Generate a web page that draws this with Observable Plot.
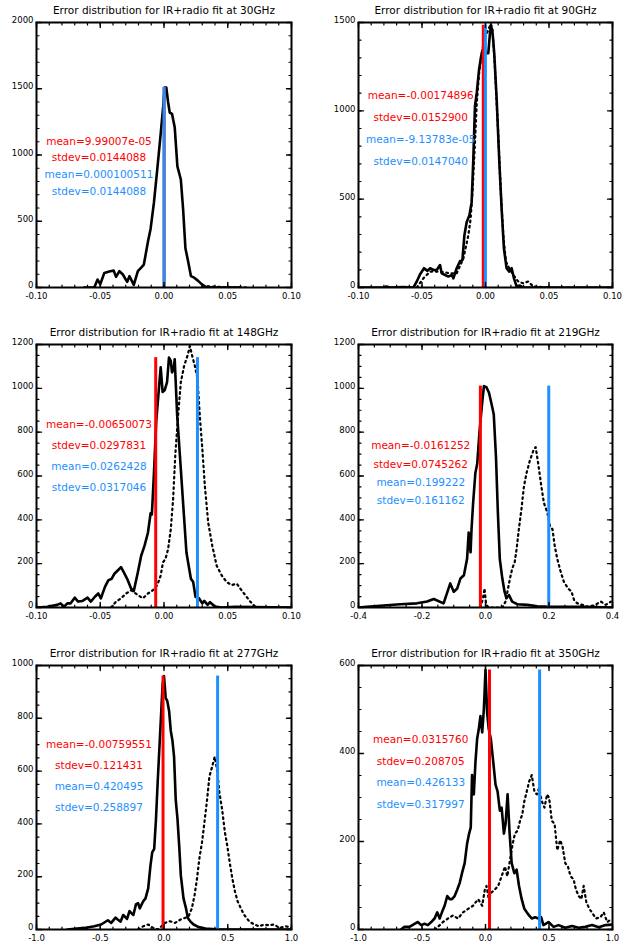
<!DOCTYPE html>
<html><head><meta charset="utf-8">
<script src="https://cdn.jsdelivr.net/npm/d3@7"></script>
<script src="https://cdn.jsdelivr.net/npm/@observablehq/plot@0.6"></script>
<style>
body{margin:0;background:#fff;}
#wrap{position:relative;width:631px;height:950px;overflow:hidden;background:#fff;}
#wrap svg{position:absolute;}
</style></head><body><div id="wrap"></div>
<script>
// ---------- data ----------
const frequencies = ["30GHz","90GHz","148GHz","219GHz","277GHz","350GHz"];
const xDomains = [[-0.1,0.1],[-0.1,0.1],[-0.1,0.1],[-0.4,0.4],[-1,1],[-1,1]];
const yDomains = [[0,2000],[0,1500],[0,1200],[0,1200],[0,1000],[0,600]];
const xTickValues = [
  [-0.1,-0.05,0,0.05,0.1],[-0.1,-0.05,0,0.05,0.1],[-0.1,-0.05,0,0.05,0.1],
  [-0.4,-0.2,0,0.2,0.4],[-1,-0.5,0,0.5,1],[-1,-0.5,0,0.5,1]];
const xTickLabels = [
  ["-0.10","-0.05","0.00","0.05","0.10"],["-0.10","-0.05","0.00","0.05","0.10"],["-0.10","-0.05","0.00","0.05","0.10"],
  ["-0.4","-0.2","0.0","0.2","0.4"],["-1.0","-0.5","0.0","0.5","1.0"],["-1.0","-0.5","0.0","0.5","1.0"]];
const yTickValues = [
  [0,500,1000,1500,2000],[0,500,1000,1500],[0,200,400,600,800,1000,1200],
  [0,200,400,600,800,1000,1200],[0,200,400,600,800,1000],[0,200,400,600]];
const xMinorStep = [0.01,0.01,0.01,0.05,0.1,0.1];
const yMinorStep = [100,100,50,50,50,50];

const redMeanText  = ["9.99007e-05","-0.00174896","-0.00650073","-0.0161252","-0.00759551","0.0315760"];
const redStdText   = ["0.0144088","0.0152900","0.0297831","0.0745262","0.121431","0.208705"];
const blueMeanText = ["0.000100511","-9.13783e-05","0.0262428","0.199222","0.420495","0.426133"];
const blueStdText  = ["0.0144088","0.0147040","0.0317046","0.161162","0.258897","0.317997"];

// histograms: [error, count]
const solid30 = [[-0.0626,0],[-0.0547,0],[-0.0521,60],[-0.05,25],[-0.0468,110],[-0.0429,120],[-0.0395,128],[-0.0376,80],[-0.035,123],[-0.0324,100],[-0.0289,42],[-0.0271,86],[-0.0237,20],[-0.0205,123],[-0.0179,150],[-0.0158,173],[-0.0126,345],[-0.0105,444],[-0.0079,640],[-0.0053,890],[-0.0026,1160],[-0.0005,1380],[0.0005,1510],[0.0018,1510],[0.0032,1400],[0.0045,1320],[0.0063,1310],[0.0084,1210],[0.0105,914],[0.0132,815],[0.015,590],[0.0168,296],[0.0189,198],[0.0211,86],[0.0237,74],[0.0268,50],[0.0295,25],[0.0326,5],[0.0374,0],[0.06,0]];
const dotted30 = [[0.03,10],[0.0374,8],[0.045,4],[0.055,2],[0.065,0]];
const solid90 = [[-0.1,0],[-0.08,0],[-0.078,6],[-0.075,0],[-0.065,3],[-0.0567,0],[-0.0541,34],[-0.0515,75],[-0.0484,109],[-0.0457,94],[-0.0436,109],[-0.041,99],[-0.0384,99],[-0.0358,127],[-0.0345,80],[-0.0318,71],[-0.0292,62],[-0.0266,71],[-0.0253,52],[-0.0227,109],[-0.02,150],[-0.0182,155],[-0.0166,296],[-0.0148,371],[-0.0127,408],[-0.0109,483],[-0.0096,727],[-0.0083,1026],[-0.0069,1101],[-0.0051,1232],[-0.0035,1307],[-0.0022,1345],[0.0009,1326],[0.0022,1326],[0.0035,1438],[0.0043,1485],[0.0056,1438],[0.0069,1326],[0.0088,1064],[0.0109,708],[0.0127,446],[0.0145,221],[0.0166,109],[0.0187,90],[0.0206,109],[0.0224,52],[0.0245,6],[0.0271,11],[0.0297,0],[0.1,0]];
const dotted90 = [[-0.0541,0],[-0.0489,52],[-0.0436,90],[-0.0358,90],[-0.0279,80],[-0.0227,80],[-0.0174,165],[-0.0135,296],[-0.0117,390],[-0.0101,558],[-0.0083,820],[-0.0069,1045],[-0.0048,1232],[-0.003,1326],[-0.0004,1420],[0.0022,1457],[0.0041,1494],[0.0056,1457],[0.0075,1232],[0.0101,858],[0.0122,521],[0.014,296],[0.0161,146],[0.0187,109],[0.0219,71],[0.0258,34],[0.0297,24],[0.0337,34],[0.0376,6],[0.0507,0]];
const solid148 = [[-0.1,0],[-0.0995,0],[-0.0916,3],[-0.0837,12],[-0.0811,19],[-0.0784,4],[-0.0758,19],[-0.0732,19],[-0.07,45],[-0.0674,27],[-0.0639,30],[-0.06,45],[-0.0574,27],[-0.0542,49],[-0.0516,64],[-0.0495,42],[-0.0463,94],[-0.0437,124],[-0.0411,131],[-0.0389,154],[-0.0363,169],[-0.0337,184],[-0.0316,161],[-0.0289,131],[-0.0258,87],[-0.0237,75],[-0.0205,161],[-0.0179,236],[-0.0153,281],[-0.0126,341],[-0.0105,430],[-0.0095,425],[-0.0079,610],[-0.0061,849],[-0.0042,984],[-0.0026,1096],[-0.0011,984],[0.0005,991],[0.0024,1028],[0.0039,1140],[0.0053,1125],[0.0063,1073],[0.0076,1088],[0.0084,1133],[0.0103,879],[0.0124,700],[0.015,475],[0.0176,251],[0.0211,131],[0.0229,116],[0.0247,49],[0.0274,42],[0.03,19],[0.0316,30],[0.0342,12],[0.0361,24],[0.0379,15],[0.04,4],[0.0453,0],[0.0558,3],[0.1,0]];
const dotted148 = [[-0.0416,0],[-0.0376,27],[-0.0337,42],[-0.0297,64],[-0.0258,79],[-0.0205,57],[-0.0166,42],[-0.0126,64],[-0.0087,79],[-0.0053,102],[-0.0026,146],[-0.0008,206],[0.0011,221],[0.0032,266],[0.0053,356],[0.0071,490],[0.0089,700],[0.0111,879],[0.0132,1028],[0.0158,1103],[0.0184,1148],[0.0203,1193],[0.0221,1148],[0.0242,1103],[0.0263,1043],[0.0282,864],[0.03,729],[0.0321,550],[0.0347,386],[0.0379,281],[0.0413,191],[0.0453,146],[0.0492,116],[0.0532,102],[0.0571,109],[0.0597,87],[0.0637,57],[0.0676,27],[0.0716,4],[0.0768,0],[0.0953,0]];
const solid219 = [[-0.4,0],[-0.374,3],[-0.321,9],[-0.268,15],[-0.216,19],[-0.184,27],[-0.163,39],[-0.132,19],[-0.111,110],[-0.1,72],[-0.089,87],[-0.079,132],[-0.068,147],[-0.058,222],[-0.053,342],[-0.047,252],[-0.044,357],[-0.039,477],[-0.032,612],[-0.026,657],[-0.019,800],[-0.011,927],[-0.005,1010],[0.003,1005],[0.011,980],[0.018,935],[0.026,882],[0.033,687],[0.039,432],[0.045,222],[0.053,132],[0.06,72],[0.066,42],[0.074,57],[0.084,27],[0.1,15],[0.132,12],[0.163,6],[0.205,3],[0.311,3],[0.4,0]];
const dotted219 = [[-0.016,0],[-0.008,42],[-0.003,87],[0.002,12],[0.01,0],[0.053,0],[0.063,27],[0.071,87],[0.077,132],[0.084,177],[0.092,207],[0.098,267],[0.105,357],[0.113,447],[0.121,552],[0.129,612],[0.14,672],[0.151,717],[0.158,732],[0.166,657],[0.176,552],[0.184,477],[0.195,432],[0.203,372],[0.211,357],[0.218,282],[0.226,222],[0.237,162],[0.247,117],[0.26,87],[0.271,72],[0.279,34],[0.289,19],[0.305,12],[0.321,4],[0.342,9],[0.363,27],[0.379,12],[0.395,27]];
const solid277 = [[-0.757,0],[-0.625,6],[-0.546,12],[-0.493,19],[-0.44,35],[-0.414,25],[-0.38,45],[-0.361,37],[-0.34,30],[-0.32,55],[-0.309,50],[-0.29,40],[-0.27,70],[-0.256,62],[-0.24,55],[-0.22,95],[-0.203,100],[-0.19,80],[-0.164,106],[-0.145,118],[-0.124,156],[-0.106,243],[-0.092,293],[-0.077,305],[-0.063,417],[-0.05,554],[-0.037,679],[-0.024,803],[-0.011,928],[0,960],[0.013,878],[0.026,865],[0.04,828],[0.053,753],[0.066,716],[0.079,654],[0.092,492],[0.106,417],[0.119,318],[0.132,205],[0.153,118],[0.172,81],[0.187,44],[0.206,31],[0.232,19],[0.272,9],[0.325,4],[0.43,0],[1,0]];
const dotted277 = [[-0.203,0],[-0.164,12],[-0.124,19],[-0.084,6],[-0.045,0],[0.008,25],[0.047,31],[0.087,25],[0.127,37],[0.166,44],[0.193,50],[0.219,81],[0.24,131],[0.259,193],[0.277,268],[0.298,330],[0.317,405],[0.338,492],[0.356,579],[0.377,616],[0.398,654],[0.417,604],[0.435,517],[0.456,455],[0.478,367],[0.496,318],[0.515,255],[0.536,193],[0.557,143],[0.578,106],[0.602,81],[0.628,56],[0.668,31],[0.707,19],[0.747,12],[0.786,19],[0.826,16],[0.865,19],[0.905,6],[0.958,12],[1.0,6]];
const solid350 = [[-0.665,0],[-0.639,6],[-0.599,6],[-0.559,13],[-0.533,17],[-0.507,10],[-0.48,13],[-0.454,10],[-0.427,17],[-0.401,25],[-0.38,39],[-0.361,25],[-0.343,39],[-0.322,54],[-0.301,76],[-0.282,69],[-0.264,69],[-0.243,76],[-0.222,91],[-0.203,106],[-0.185,128],[-0.164,151],[-0.145,195],[-0.129,218],[-0.116,232],[-0.106,351],[-0.092,307],[-0.079,381],[-0.066,433],[-0.053,455],[-0.04,485],[-0.026,448],[-0.013,500],[0,590],[0.013,492],[0.026,455],[0.042,433],[0.061,381],[0.079,329],[0.095,314],[0.113,270],[0.127,277],[0.145,218],[0.158,240],[0.174,307],[0.19,218],[0.206,151],[0.227,128],[0.245,136],[0.264,99],[0.285,69],[0.306,47],[0.325,39],[0.343,32],[0.364,25],[0.391,28],[0.417,25],[0.438,28],[0.456,10],[0.496,17],[0.536,6],[0.575,10],[0.628,4],[0.681,8],[0.734,4],[0.786,6],[0.839,10],[0.892,5],[0.945,10],[0.997,11]];
const dotted350 = [[-0.401,0],[-0.375,6],[-0.335,17],[-0.296,25],[-0.256,32],[-0.216,25],[-0.177,39],[-0.137,47],[-0.098,54],[-0.058,69],[-0.026,54],[-0.005,91],[0.008,99],[0.026,69],[0.047,84],[0.074,91],[0.1,99],[0.127,121],[0.153,143],[0.172,121],[0.193,158],[0.214,195],[0.232,218],[0.253,225],[0.272,247],[0.29,262],[0.306,292],[0.325,314],[0.343,336],[0.364,351],[0.385,314],[0.404,307],[0.422,321],[0.443,292],[0.464,277],[0.485,307],[0.501,299],[0.522,247],[0.544,240],[0.565,180],[0.588,203],[0.607,188],[0.628,151],[0.649,143],[0.67,121],[0.694,114],[0.712,91],[0.734,76],[0.755,69],[0.773,99],[0.794,62],[0.818,47],[0.844,36],[0.871,25],[0.905,28],[0.931,39],[0.958,17],[0.997,25]];

const solidSeries  = [solid30, solid90, solid148, solid219, solid277, solid350];
const dottedSeries = [dotted30, dotted90, dotted148, dotted219, dotted277, dotted350];

// ---------- layout / style ----------
const RED = "#ff0000", BLUE = "#1e8fff";
const FONT = "DejaVu Sans";
const cols = [{left:0, width:316, ml:36, mr:25}, {left:316, width:315, ml:42, mr:19}];
const rows = [{ft:22, fb:287}, {ft:344, fb:607}, {ft:665, fb:929}];
const tickShape = {draw(ctx, l){ ctx.moveTo(0,0); ctx.lineTo(0,-l); }};

function ticksOnFrame(xs, ys, len, sw){
  const o = {length:len, anchor:"start", shape:tickShape, stroke:"black", strokeWidth:sw};
  return [
    Plot.vector(xs, {...o, x:d=>d, frameAnchor:"bottom", rotate:0}),
    Plot.vector(xs, {...o, x:d=>d, frameAnchor:"top", rotate:180}),
    Plot.vector(ys, {...o, y:d=>d, frameAnchor:"left", rotate:90}),
    Plot.vector(ys, {...o, y:d=>d, frameAnchor:"right", rotate:-90})
  ];
}
function stepRange(lo, hi, step){
  const n = Math.round((hi-lo)/step);
  return d3.range(n+1).map(k => +(lo + k*step).toFixed(6));
}

const wrap = document.getElementById("wrap");
for (let i = 0; i < 6; i++) {
  const c = cols[i % 2], r = rows[Math.floor(i / 2)];
  const [x0, x1] = xDomains[i];
  const solid = solidSeries[i], dotted = dottedSeries[i];
  const peak = d3.max(solid, d => d[1]);
  const labelMap = new Map(xTickValues[i].map((v, k) => [v, xTickLabels[i][k]]));
  const textX = x0 + 0.245 * (x1 - x0);
  const redLabels = ["mean=" + redMeanText[i], "stdev=" + redStdText[i]];
  const blueLabels = ["mean=" + blueMeanText[i], "stdev=" + blueStdText[i]];
  const marginTop = 30, marginBottom = 22;
  const height = (r.fb - r.ft) + marginTop + marginBottom;

  const svg = Plot.plot({
    width: c.width, height,
    marginLeft: c.ml, marginRight: c.mr, marginTop, marginBottom,
    x: {domain: xDomains[i]},
    y: {domain: yDomains[i]},
    style: {fontFamily: FONT, fontSize: "8.5px", background: "transparent", overflow: "visible", color: "black"},
    marks: [
      Plot.line(dotted, {x: d => d[0], y: d => d[1], stroke: "black", strokeWidth: 2.2, strokeDasharray: "1.7,3.6", clip: true}),
      Plot.line(solid, {x: d => d[0], y: d => d[1], stroke: "black", strokeWidth: 2.6, strokeLinejoin: "round", clip: true}),
      Plot.ruleX([parseFloat(redMeanText[i])], {x: d => d, y1: 0, y2: peak, stroke: RED, strokeWidth: 3}),
      Plot.ruleX([parseFloat(blueMeanText[i])], {x: d => d, y1: 0, y2: peak, stroke: BLUE, strokeWidth: 3}),
      ...ticksOnFrame(stepRange(x0, x1, xMinorStep[i]), stepRange(0, yDomains[i][1], yMinorStep[i]), 2.5, 1.2),
      ...ticksOnFrame(xTickValues[i], yTickValues[i], 5, 1.4),
      Plot.frame({stroke: "black", strokeWidth: 2}),
      Plot.axisX({ticks: xTickValues[i], tickFormat: d => labelMap.get(d), tickSize: 0, tickPadding: 5, label: null}),
      Plot.axisY({ticks: yTickValues[i], tickFormat: d => String(d), tickSize: 0, tickPadding: 3, label: null, dy: -2}),
      Plot.text(["Error distribution for IR+radio fit at " + frequencies[i]], {frameAnchor: "top", dy: -16, text: d => d, fontSize: 10.5, fill: "black"}),
      Plot.text(redLabels, {x: () => textX, y: (d, k) => peak * (0.73 - 0.083 * k), text: d => d, fill: RED, fontSize: 10.5}),
      Plot.text(blueLabels, {x: () => textX, y: (d, k) => peak * (0.73 - 0.083 * (k + 2)), text: d => d, fill: BLUE, fontSize: 10.5})
    ]
  });
  svg.style.left = c.left + "px";
  svg.style.top = (r.ft - marginTop) + "px";
  wrap.appendChild(svg);
}
</script></body></html>
